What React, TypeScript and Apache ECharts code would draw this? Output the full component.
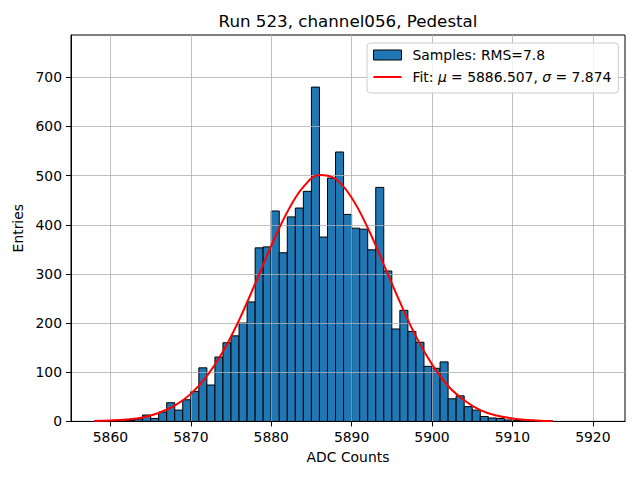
import React, { useEffect, useRef } from 'react';
import * as echarts from 'echarts';

const titleText = 'Run 523, channel056, Pedestal';
const xAxisName = 'ADC Counts';
const yAxisName = 'Entries';

const binLefts = [
  5858, 5859, 5860, 5861, 5862, 5863, 5864, 5865, 5866, 5867,
  5868, 5869, 5870, 5871, 5872, 5873, 5874, 5875, 5876, 5877,
  5878, 5879, 5880, 5881, 5882, 5883, 5884, 5885, 5886, 5887,
  5888, 5889, 5890, 5891, 5892, 5893, 5894, 5895, 5896, 5897,
  5898, 5899, 5900, 5901, 5902, 5903, 5904, 5905, 5906, 5907,
  5908, 5909, 5910, 5911, 5912, 5913, 5914,
];
const binWidth = 1;
const binCounts = [
  1, 0, 0, 1, 2, 5, 13, 6, 19, 38,
  23, 44, 61, 109, 74, 131, 160, 174, 200, 243,
  353, 355, 428, 343, 416, 434, 468, 680, 375, 495,
  548, 421, 393, 391, 349, 476, 306, 188, 226, 183,
  161, 112, 108, 121, 46, 52, 30, 23, 10, 7,
  6, 3, 2, 1, 1, 0, 1,
];

const fitX = [
  5858, 5860, 5862, 5864, 5866, 5868, 5870, 5872, 5874, 5876,
  5878, 5880, 5882, 5884, 5886, 5888, 5890, 5892, 5894, 5896,
  5898, 5900, 5902, 5904, 5906, 5908, 5910, 5912, 5914, 5915,
];
const fitY = [
  1, 2, 4, 8, 17, 32, 56, 92, 142, 206,
  280, 357, 426, 477, 501, 493, 455, 394, 319, 243,
  173, 116, 72, 43, 23, 12, 6, 3, 1, 1,
];

const xTicks = [5860, 5870, 5880, 5890, 5900, 5910, 5920];
const yTicks = [0, 100, 200, 300, 400, 500, 600, 700];

const rmsText = '7.8';
const fitMu = '5886.507';
const fitSigma = '7.874';
const sampleName = `Samples: RMS=${rmsText}`;
const fitName = `Fit: \u03bc = ${fitMu}, \u03c3 = ${fitSigma}`;

const FONT = 'DejaVu Sans';
const FS = 13.9;
const LINE_ICON = 'path://M0,0 L0.01,0 L0.01,0.01 Z M0,4 L28,4 L28,6 L0,6 Z M0,10 L0.01,10 L0.01,9.99 Z';

export default function App() {
  const ref = useRef<HTMLDivElement>(null);
  useEffect(() => {
    if (!ref.current) return;
    const chart = echarts.init(ref.current, undefined, { renderer: 'svg' });
    const histData = binLefts.map((l, i) => [l, l + binWidth, binCounts[i]]);
    const fitData = fitX.map((x, i) => [x, fitY[i]]);
    const axisCommon = {
      axisLine: { show: true, onZero: false, lineStyle: { color: '#000', width: 1 } },
      splitLine: { show: true, lineStyle: { color: '#b0b0b0', width: 0.8 } },
      nameLocation: 'middle' as const,
      nameTextStyle: { fontFamily: FONT, fontSize: FS, color: '#000' },
      z: 3,
    };
    chart.setOption({
      animation: false,
      backgroundColor: '#fff',
      title: {
        text: titleText,
        left: 348,
        top: 12,
        padding: 0,
        textAlign: 'center',
        textStyle: { fontFamily: FONT, fontSize: 16.7, fontWeight: 'normal', color: '#000' },
      },
      grid: {
        left: 71,
        right: 15,
        top: 35,
        bottom: 58.6,
        show: true,
        borderColor: '#000',
        borderWidth: 1,
        containLabel: false,
      },
      legend: {
        orient: 'vertical',
        left: 367,
        top: 43,
        padding: [4, 7, 8, 6],
        itemGap: 6,
        itemWidth: 28,
        itemHeight: 10,
        selectedMode: false,
        borderColor: '#cccccc',
        borderWidth: 1,
        borderRadius: 3,
        backgroundColor: 'rgba(255,255,255,0.8)',
        z: 6,
        data: [
          {
            name: sampleName,
            icon: 'rect',
            itemStyle: { color: '#1f77b4', borderColor: '#000', borderWidth: 1 },
          },
          {
            name: fitName,
            icon: LINE_ICON,
            itemStyle: { color: '#ff0000', borderWidth: 0 },
          },
        ],
        formatter: (name: string) =>
          name === fitName
            ? `{n|Fit: }{i|\u03bc}{n| = ${fitMu}, }{i|\u03c3}{n| = ${fitSigma}}`
            : `{n|${name}}`,
        textStyle: {
          fontFamily: FONT,
          fontSize: FS,
          color: '#000',
          lineHeight: 16,
          padding: [0, 0, 0, 6],
          rich: {
            n: { fontFamily: FONT, fontSize: FS, color: '#000', lineHeight: 16 },
            i: { fontFamily: FONT, fontSize: FS, color: '#000', fontStyle: 'italic', lineHeight: 16 },
          },
        },
      },
      xAxis: {
        ...axisCommon,
        type: 'value',
        min: 5855.1,
        max: 5924.0,
        name: xAxisName,
        nameGap: 29,
        axisTick: { show: true, length: 5, customValues: xTicks, lineStyle: { color: '#000', width: 1 } },
        axisLabel: {
          customValues: xTicks,
          formatter: (v: number) => String(v),
          margin: 9,
          fontFamily: FONT,
          fontSize: FS,
          color: '#000',
        },
      },
      yAxis: {
        ...axisCommon,
        type: 'value',
        min: 0,
        max: 786,
        name: yAxisName,
        nameGap: 37,
        axisTick: { show: true, length: 5, customValues: yTicks, lineStyle: { color: '#000', width: 1 } },
        axisLabel: {
          customValues: yTicks,
          formatter: (v: number) => String(v),
          margin: 9,
          fontFamily: FONT,
          fontSize: FS,
          color: '#000',
        },
      },
      series: [
        {
          name: sampleName,
          type: 'custom',
          z: 2,
          itemStyle: { color: '#1f77b4', borderColor: '#000', borderWidth: 1 },
          encode: { x: [0, 1], y: 2 },
          data: histData,
          renderItem: (params: any, api: any) => {
            const x0 = api.value(0);
            const x1 = api.value(1);
            const v = api.value(2);
            const p0 = api.coord([x0, v]);
            const p1 = api.coord([x1, 0]);
            return {
              type: 'rect',
              shape: { x: p0[0], y: p0[1], width: p1[0] - p0[0], height: p1[1] - p0[1] },
              style: { fill: '#1f77b4', stroke: '#000', lineWidth: 1 },
            };
          },
        },
        {
          name: fitName,
          type: 'line',
          z: 4,
          data: fitData,
          smooth: 0.4,
          symbol: 'none',
          showSymbol: false,
          itemStyle: { color: '#ff0000' },
          lineStyle: { color: '#ff0000', width: 2 },
        },
      ],
    });
    return () => chart.dispose();
  }, []);
  return (
    <div
      ref={ref}
      style={{ position: 'absolute', left: 0, top: 0, width: 640, height: 480 }}
    />
  );
}
